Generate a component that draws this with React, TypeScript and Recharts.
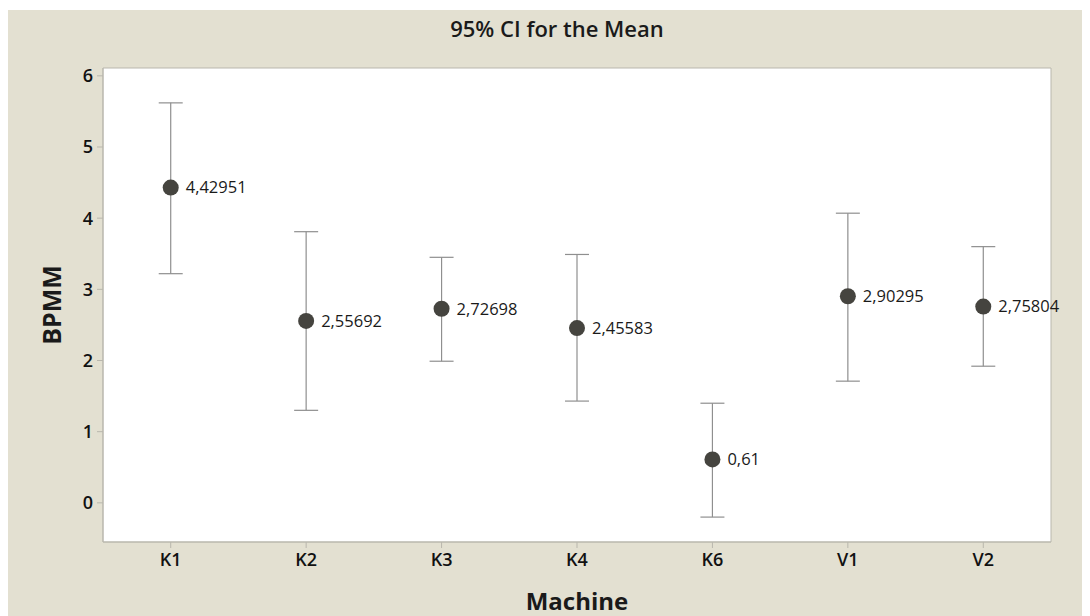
import { CartesianGrid, ComposedChart, ErrorBar, LabelList, Line, ReferenceArea, XAxis, YAxis } from "recharts"

const machines = ["K1", "K2", "K3", "K4", "K6", "V1", "V2"]
const means = [4.42951, 2.55692, 2.72698, 2.45583, 0.61, 2.90295, 2.75804]
const lowerCI = [3.22, 1.3, 1.99, 1.43, -0.2, 1.71, 1.92]
const upperCI = [5.62, 3.81, 3.45, 3.49, 1.4, 4.07, 3.6]
const yTicks = [0, 1, 2, 3, 4, 5, 6]
const yDomain: [number, number] = [-0.55, 6.11]

const BG = "#e3e0d1"
const AXIS = "#b9b7ad"
const FONT = "'Open Sans', 'Noto Sans', sans-serif"

const data = machines.map((m, i) => ({
  machine: m,
  mean: means[i],
  ci: [means[i] - lowerCI[i], upperCI[i] - means[i]],
}))

export default function App() {
  return (
    <div style={{ position: "relative", width: 1082, height: 606, marginTop: 2, background: BG, fontFamily: FONT }}>
      <div
        style={{
          position: "absolute",
          top: 3,
          left: 8,
          width: 1082,
          textAlign: "center",
          fontSize: 22,
          fontWeight: 600,
          color: "#1a1a1a",
        }}
      >
        95% CI for the Mean
      </div>
      <ComposedChart
        width={1082}
        height={606}
        data={data}
        margin={{ top: 58, right: 39, left: 0, bottom: 0 }}
      >
        <CartesianGrid fill="#ffffff" horizontal={false} vertical={false} />
        <ReferenceArea y1={yDomain[0]} y2={yDomain[1]} fill="none" stroke={AXIS} strokeWidth={1} />
        <XAxis
          dataKey="machine"
          scale="band"
          height={74}
          axisLine={{ stroke: AXIS }}
          tickLine={{ stroke: AXIS }}
          tickSize={6}
          tickMargin={5}
          tick={{ fill: "#111", fontSize: 18, fontWeight: 600, fontFamily: FONT }}
          label={{ value: "Machine", position: "insideBottom", offset: 6, fill: "#1a1a1a", fontSize: 24, fontWeight: 700, fontFamily: FONT }}
        />
        <YAxis
          type="number"
          domain={yDomain}
          ticks={yTicks}
          width={95}
          axisLine={{ stroke: AXIS }}
          tickLine={{ stroke: AXIS }}
          tickSize={6}
          tickMargin={4}
          tick={{ fill: "#111", fontSize: 18, fontWeight: 600, fontFamily: FONT }}
          label={{ value: "BPMM", angle: -90, position: "insideLeft", offset: 44, fill: "#1a1a1a", fontSize: 25, fontWeight: 700, fontFamily: FONT, style: { textAnchor: "middle" } }}
        />
        <Line
          dataKey="mean"
          stroke="none"
          isAnimationActive={false}
          dot={{ r: 8, fill: "#45443f", stroke: "none" }}
          activeDot={false}
        >
          <ErrorBar dataKey="ci" direction="y" width={12} stroke="#8f8f8f" strokeWidth={1.2} />
          <LabelList
            dataKey="mean"
            position="right"
            offset={15}
            formatter={(v: number) => String(v).replace(".", ",")}
            style={{ fill: "#1a1a1a", fontSize: 16.5, fontFamily: FONT }}
          />
        </Line>
      </ComposedChart>
    </div>
  )
}
